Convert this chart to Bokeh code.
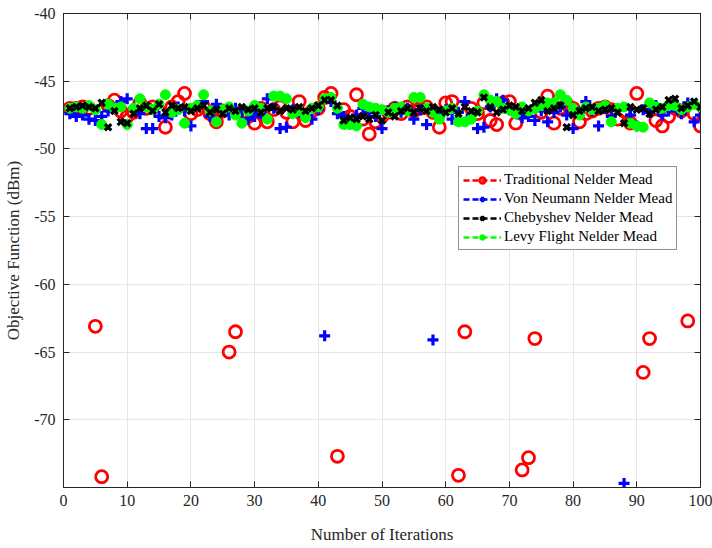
import numpy as np
from bokeh.plotting import figure
from bokeh.models import LinearAxis, FixedTicker, Legend, LegendItem, Range1d
from bokeh.embed import file_html
from bokeh.resources import INLINE

iterations = list(range(1, 101))

traditional = [
    -47.0, -47.0, -46.9, -47.0, -63.1, -74.2, -46.8, -46.4, -47.2, -47.6,
    -47.3, -46.6, -47.0, -46.9, -47.2, -48.4, -46.9, -46.5, -45.9, -47.4,
    -47.1, -46.9, -47.4, -48.0, -47.2, -65.0, -63.5, -47.3, -47.6, -48.1,
    -47.0, -48.0, -47.1, -46.9, -47.3, -48.0, -46.5, -47.9, -47.2, -47.0,
    -46.2, -45.9, -72.7, -47.1, -47.6, -46.0, -47.8, -48.9, -48.0, -47.6,
    -47.3, -47.0, -47.4, -46.9, -47.2, -47.0, -46.9, -47.3, -48.4, -46.6,
    -46.5, -74.1, -63.5, -47.0, -47.4, -46.6, -47.9, -48.2, -46.6, -46.5,
    -48.1, -73.7, -72.8, -64.0, -47.3, -46.1, -48.1, -47.0, -46.7, -47.0,
    -48.0, -47.4, -47.2, -47.0, -46.9, -47.1, -47.8, -47.2, -48.1, -45.9,
    -66.5, -64.0, -47.9, -48.3, -47.6, -47.0, -47.2, -62.7, -47.4, -48.3,
]

von_neumann = [
    -47.4, -47.6, -47.5, -47.8, -47.9, -47.6, -47.2, -47.0, -46.5, -46.3,
    -47.0, -47.4, -48.5, -48.5, -47.6, -47.7, -47.5, -46.9, -47.2, -48.3,
    -46.8, -46.5, -47.6, -46.7, -47.2, -47.5, -47.0, -47.3, -47.8, -47.6,
    -47.4, -46.3, -47.0, -48.5, -48.4, -47.1, -47.3, -47.6, -47.8, -47.1,
    -63.8, -46.5, -47.4, -47.6, -47.9, -47.5, -47.0, -47.3, -47.6, -48.5,
    -47.2, -46.9, -47.3, -47.0, -47.8, -47.1, -48.2, -64.1, -47.6, -47.1,
    -47.8, -47.3, -46.5, -47.5, -48.5, -48.4, -46.9, -46.3, -46.4, -47.1,
    -47.4, -47.7, -47.6, -47.9, -47.2, -48.0, -47.3, -46.9, -47.5, -48.5,
    -47.3, -46.5, -47.2, -48.3, -47.0, -47.6, -47.1, -74.7, -47.5, -48.3,
    -47.1, -47.3, -46.8, -47.5, -47.2, -46.9, -47.4, -46.6, -48.0, -47.5,
]

chebyshev = [
    -47.0, -46.9, -46.8, -46.9, -47.0, -46.6, -48.4, -47.2, -48.0, -48.1,
    -47.4, -47.0, -46.8, -47.2, -46.7, -47.3, -46.8, -47.0, -46.9, -47.2,
    -47.0, -46.8, -47.3, -47.1, -47.4, -47.0, -47.2, -46.9, -47.1, -47.0,
    -47.3, -47.0, -46.9, -47.2, -47.0, -47.1, -46.9, -47.2, -47.0, -46.8,
    -46.4, -46.4, -46.8, -47.9, -47.7, -47.8, -47.6, -47.8, -47.5, -47.9,
    -47.3, -47.6, -47.2, -47.0, -47.3, -47.0, -47.2, -46.9, -47.1, -47.3,
    -47.0, -47.4, -46.9, -47.2, -47.3, -46.2, -46.9, -47.3, -47.1, -46.8,
    -46.9, -47.2, -47.0, -46.6, -46.4, -47.2, -47.0, -46.8, -48.4, -47.5,
    -47.2, -47.0, -46.9, -47.2, -47.1, -47.0, -47.3, -48.1, -46.9, -47.1,
    -47.0, -47.4, -47.1, -46.9, -46.4, -46.3, -47.0, -46.8, -46.5, -46.9,
]

levy_flight = [
    -47.0, -46.9, -47.0, -46.8, -47.1, -48.2, -46.7, -47.0, -46.9, -48.2,
    -47.0, -46.3, -46.9, -47.1, -46.7, -46.0, -47.3, -47.1, -48.1, -47.0,
    -46.8, -46.0, -47.2, -48.0, -47.1, -46.9, -47.5, -48.1, -47.2, -46.8,
    -47.0, -47.8, -46.1, -46.1, -46.3, -47.4, -47.2, -47.7, -47.0, -46.9,
    -46.3, -46.2, -47.0, -48.2, -48.2, -48.3, -46.7, -46.9, -47.0, -47.1,
    -47.3, -47.0, -46.9, -47.2, -46.2, -46.2, -47.0, -47.3, -47.8, -47.2,
    -47.0, -48.0, -48.0, -47.8, -47.2, -46.0, -46.4, -46.5, -47.0, -47.1,
    -47.4, -46.9, -47.2, -47.0, -46.8, -46.6, -46.6, -46.0, -46.4, -47.0,
    -47.5, -46.9, -47.1, -47.0, -46.8, -48.0, -47.0, -46.9, -48.1, -48.3,
    -48.4, -46.6, -46.9, -47.0, -46.8, -46.8, -47.1, -46.9, -46.7, -46.9,
]

series_names = ["Traditional Nelder Mead", "Von Neumann Nelder Mead",
                "Chebyshev Nelder Mead", "Levy Flight Nelder Mead"]
x_ticks = list(range(0, 101, 10))
y_ticks = [-70, -65, -60, -55, -50, -45, -40]

FONT = "Liberation Serif"
TICK_COLOR = "#262626"

p = figure(width=712, height=548, output_backend="svg", toolbar_location=None,
           x_range=Range1d(0, 100), y_range=Range1d(-75, -40),
           frame_width=637, frame_height=474)
p.min_border_left = 63
p.min_border_right = 12
p.min_border_top = 13
p.min_border_bottom = 61
p.background_fill_color = "white"
p.border_fill_color = "white"
p.outline_line_color = TICK_COLOR
p.outline_line_width = 1

p.xgrid.ticker = FixedTicker(ticks=x_ticks)
p.ygrid.ticker = FixedTicker(ticks=y_ticks)
for g in (p.xgrid, p.ygrid):
    g.grid_line_color = "#e6e6e6"
    g.grid_line_width = 1


def style_axis(ax, ticks, labels=True):
    ax.ticker = FixedTicker(ticks=ticks)
    ax.major_tick_in = 6
    ax.major_tick_out = 0
    ax.minor_tick_in = 0
    ax.minor_tick_out = 0
    ax.axis_line_color = TICK_COLOR
    ax.major_tick_line_color = TICK_COLOR
    ax.major_label_text_font = FONT
    ax.major_label_text_color = TICK_COLOR
    ax.axis_label_text_font = FONT
    ax.axis_label_text_font_style = "normal"
    ax.axis_label_text_color = TICK_COLOR
    ax.major_label_text_font_size = "16px"
    ax.axis_label_text_font_size = "17px"
    if labels:
        # plain hyphen-minus for negative numbers
        ax.major_label_overrides = {t: str(t) for t in ticks}
    else:
        ax.major_label_overrides = {t: "" for t in ticks}
        ax.major_label_standoff = 0


style_axis(p.xaxis[0], x_ticks)
style_axis(p.yaxis[0], y_ticks)
p.xaxis[0].axis_label = "Number of Iterations"
p.yaxis[0].axis_label = "Objective Function (dBm)"
p.xaxis[0].major_label_standoff = 7
p.xaxis[0].axis_label_standoff = 16
p.yaxis[0].major_label_standoff = 8
p.yaxis[0].axis_label_standoff = 8

top_axis = LinearAxis()
style_axis(top_axis, x_ticks, labels=False)
p.add_layout(top_axis, "above")
right_axis = LinearAxis()
style_axis(right_axis, y_ticks, labels=False)
p.add_layout(right_axis, "right")

nan_y = [np.nan] * len(iterations)


def legend_line(color):
    return p.line(iterations, nan_y, line_color=color, line_width=2.5,
                  line_dash="6 3")


r_trad = p.scatter(iterations, traditional, marker="circle", size=12,
                   fill_color=None, line_color="#ff0000", line_width=2.8)
r_von = p.scatter(iterations, von_neumann, marker="cross", size=11,
                  line_color="#0000ff", line_width=3.2)
r_levy = p.scatter(iterations, levy_flight, marker="circle", size=10,
                   fill_color="#00ff00", line_color="#00ff00", line_width=1)
r_cheb = p.scatter(iterations, chebyshev, marker="x", size=9,
                   line_color="#000000", line_width=3.2)

l_trad = legend_line("#ff0000")
l_von = legend_line("#0000ff")
l_cheb = legend_line("#000000")
l_levy = legend_line("#00ff00")

items = [
    LegendItem(label=series_names[0], renderers=[l_trad, r_trad]),
    LegendItem(label=series_names[1], renderers=[l_von, r_von]),
    LegendItem(label=series_names[2], renderers=[l_cheb, r_cheb]),
    LegendItem(label=series_names[3], renderers=[l_levy, r_levy]),
]
legend = Legend(items=items, location=(395, 237))
legend.label_text_font = FONT
legend.label_text_font_size = "15px"
legend.label_text_color = "#000000"
legend.border_line_color = TICK_COLOR
legend.border_line_width = 1
legend.background_fill_color = "white"
legend.background_fill_alpha = 1
legend.glyph_width = 38
legend.glyph_height = 14
legend.label_height = 14
legend.spacing = 2
legend.padding = 4
legend.margin = 0
legend.label_standoff = 3
p.add_layout(legend, "center")

open("out.html", "w").write(file_html(p, INLINE))
